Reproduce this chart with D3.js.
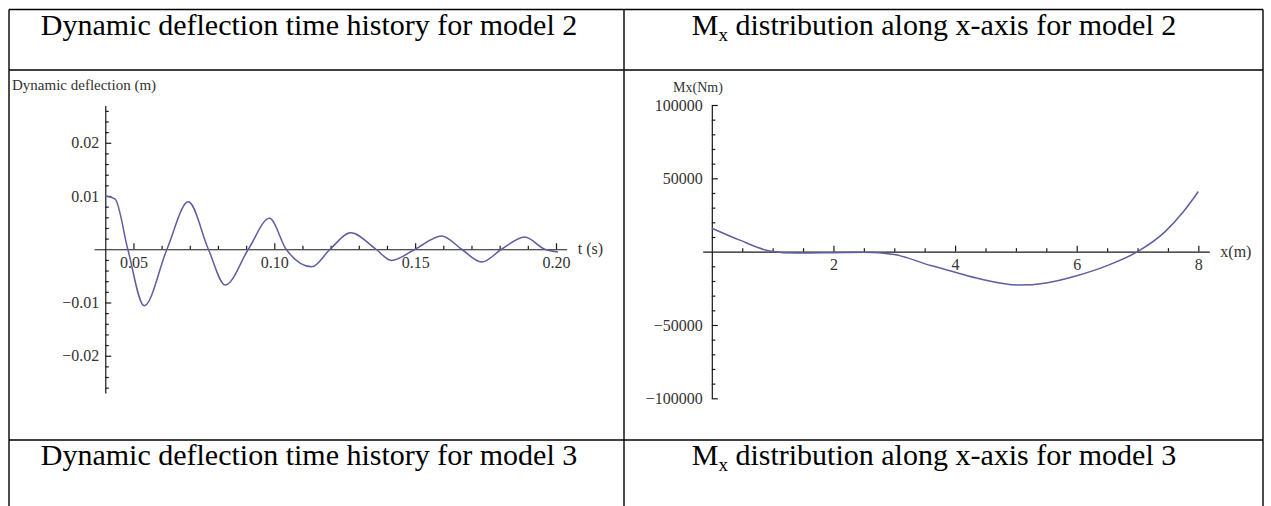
<!DOCTYPE html>
<html>
<head>
<meta charset="utf-8">
<script src="https://cdn.jsdelivr.net/npm/d3@7"></script>
<style>
  body { margin: 0; background: #fff; }
  svg { display: block; }
  .axis .domain, .axis line { stroke: #1a1a1a; stroke-width: 1.2px; }
  .axis text { font-family: "Liberation Serif", "Times New Roman", serif; font-size: 16px; fill: #333; }
  .minor .domain { display: none; }
  .curve { fill: none; stroke: #5e5ea0; stroke-width: 1.5px; }
  .grid { stroke: #000; stroke-width: 1.4px; }
  .head { font-family: "Liberation Serif", "Times New Roman", serif; font-size: 30px; fill: #000; }
  .lab { font-family: "Liberation Serif", "Times New Roman", serif; fill: #333; }
</style>
</head>
<body>
<svg id="chart" width="1271" height="506"></svg>
<script>
// dynamic deflection (m) against t (s), model 2
var defTime  = [0.0400, 0.0435, 0.0480, 0.0538, 0.0619, 0.0695, 0.0766, 0.0826, 0.0908, 0.0983, 0.1042, 0.1133,
                0.1198, 0.1271, 0.1361, 0.1416, 0.1500, 0.1594, 0.1665, 0.1736, 0.1807, 0.1889, 0.1960, 0.2007];
var defValue = [0.0100, 0.0094, 0.0000, -0.0106, 0.0000, 0.0089, 0.0000, -0.0067, 0.0000, 0.0058, 0.0000, -0.0033,
                0.0000, 0.0031, 0.0000, -0.0021, 0.0000, 0.0025, 0.0000, -0.0024, 0.0000, 0.0023, 0.0000, -0.0005];
var defTicksX = [0.05, 0.10, 0.15, 0.20];
var defTicksY = [-0.02, -0.01, 0.01, 0.02];

// Mx (Nm) along x (m), model 2
var mxPos   = [0, 0.45, 0.95, 1.4, 2.0, 2.5, 3.0, 3.6, 4.0, 4.4, 5.05, 5.5, 6.0, 6.5, 7.0, 7.45, 7.75, 8.0];
var mxValue = [16000, 8000, 500, -1000, -700, -400, -2000, -9500, -14000, -18500, -22800, -21300, -16400, -9500,
               0, 13500, 27000, 41000];
var mxTicksX = [2, 4, 6, 8];
var mxTicksY = [-100000, -50000, 50000, 100000];

var headTop = ['Dynamic deflection time history for model 2', ' distribution along x-axis for model 2'];
var headBottom = ['Dynamic deflection time history for model 3', ' distribution along x-axis for model 3'];

var svg = d3.select('#chart');
svg.append('rect').attr('width', 1271).attr('height', 506).attr('fill', '#fff');

// table frame
var tLeft = 9, tMid = 624, tRight = 1263, tTop = 9.5, row1 = 70, row2 = 440, tBottom = 506;

function drawPlot(g, o) {
    var y0 = o.y(0), x0 = o.x(o.origin);

    g.append('g').attr('class', 'axis minor')
        .attr('transform', 'translate(0,' + y0 + ')')
        .call(d3.axisBottom(o.x).tickValues(o.minorX).tickSizeInner(-3.5).tickSizeOuter(0).tickFormat(''));
    g.append('g').attr('class', 'axis minor')
        .attr('transform', 'translate(' + x0 + ',0)')
        .call(d3.axisLeft(o.y).tickValues(o.minorY).tickSizeInner(-3.5).tickSizeOuter(0).tickFormat(''));

    g.append('g').attr('class', 'axis')
        .attr('transform', 'translate(0,' + y0 + ')')
        .call(d3.axisBottom(o.x).tickValues(o.majorX).tickSizeInner(-6).tickSizeOuter(0)
            .tickPadding(7).tickFormat(o.fmtX));
    g.append('g').attr('class', 'axis')
        .attr('transform', 'translate(' + x0 + ',0)')
        .call(d3.axisLeft(o.y).tickValues(o.majorY).tickSizeInner(-6).tickSizeOuter(0)
            .tickPadding(o.padY).tickFormat(o.fmtY));
    g.selectAll('.axis').attr('font-family', null).attr('font-size', null);

    var line = d3.line()
        .x(function(d) { return o.x(d[0]); })
        .y(function(d) { return o.y(d[1]); })
        .curve(d3.curveMonotoneX);
    g.append('path').attr('class', 'curve')
        .attr('d', line(d3.zip(o.xs, o.ys)));

    g.append('text').attr('class', 'lab')
        .attr('x', o.yLabelX).attr('y', o.yLabelY)
        .attr('text-anchor', o.yLabelAnchor)
        .style('font-size', o.yLabelSize + 'px')
        .text(o.yLabel);
    g.append('text').attr('class', 'lab')
        .attr('x', o.x.range()[1] + 11).attr('y', y0)
        .attr('dy', '0.32em')
        .style('font-size', '16px')
        .text(o.xLabel);
}

function range(a, b, step, skip) {
    return d3.range(a, b + 1).map(function(k) { return +(k * step).toFixed(6); })
        .filter(function(v) { return skip.indexOf(v) < 0 && v !== 0; });
}

// left plot
var xL = d3.scaleLinear().domain([0.036, 0.2038]).range([94, 566.7]);
var yL = d3.scaleLinear().domain([-0.027, 0.027]).range([393, 105.5]);
drawPlot(svg.append('g'), {
    x: xL, y: yL, origin: 0.04,
    xs: defTime, ys: defValue,
    majorX: defTicksX, majorY: defTicksY,
    minorX: range(5, 20, 0.01, defTicksX), minorY: range(-13, 13, 0.002, defTicksY),
    fmtX: d3.format('.2f'), fmtY: d3.format('.2f'), padY: 6,
    yLabel: 'Dynamic deflection (m)', yLabelX: 12, yLabelY: 90, yLabelAnchor: 'start', yLabelSize: 15,
    xLabel: 't (s)'
});

// right plot
var xR = d3.scaleLinear().domain([-0.15, 8.18]).range([702.7, 1209.3]);
var yR = d3.scaleLinear().domain([-100000, 100000]).range([398.3, 105]);
drawPlot(svg.append('g'), {
    x: xR, y: yR, origin: 0,
    xs: mxPos, ys: mxValue,
    majorX: mxTicksX, majorY: mxTicksY,
    minorX: range(1, 16, 0.5, mxTicksX), minorY: range(-10, 10, 10000, mxTicksY),
    fmtX: d3.format('d'), fmtY: d3.format('d'), padY: 9,
    yLabel: 'Mx(Nm)', yLabelX: 698, yLabelY: 92, yLabelAnchor: 'middle', yLabelSize: 14,
    xLabel: 'x(m)'
});

// table lines
var grid = svg.append('g');
[[tLeft, tTop, tRight, tTop], [tLeft, row1, tRight, row1], [tLeft, row2, tRight, row2],
 [tLeft, tTop, tLeft, tBottom], [tMid, tTop, tMid, tBottom], [tRight, tTop, tRight, tBottom]]
    .forEach(function(s) {
        grid.append('line').attr('class', 'grid')
            .attr('x1', s[0]).attr('y1', s[1]).attr('x2', s[2]).attr('y2', s[3]);
    });

function header(y, texts) {
    svg.append('text').attr('class', 'head')
        .attr('x', 309).attr('y', y).attr('text-anchor', 'middle')
        .text(texts[0]);
    var t = svg.append('text').attr('class', 'head')
        .attr('x', 934).attr('y', y).attr('text-anchor', 'middle');
    t.append('tspan').text('M');
    t.append('tspan').attr('font-size', '19px').attr('dy', 6).text('x');
    t.append('tspan').attr('dy', -6).text(texts[1]);
}
header(tTop + 25, headTop);
header(row2 + 25, headBottom);
</script>
</body>
</html>
